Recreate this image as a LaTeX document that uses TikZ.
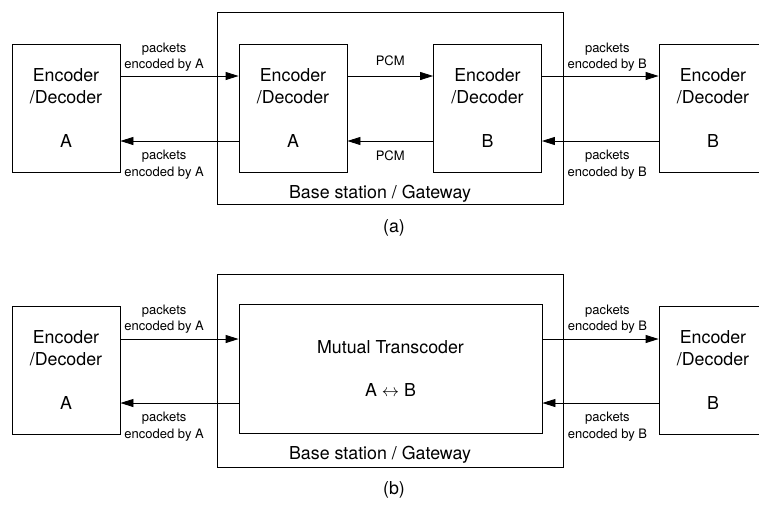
\documentclass[tikz,border=0pt]{standalone}
\usepackage{fontspec}
\setmainfont{TeX Gyre Heros}
\usetikzlibrary{arrows.meta}

\begin{document}
\begin{tikzpicture}[x=1pt, y=-1pt, line width=0.8pt,
   codec/.style={draw, minimum width=108pt, minimum height=128pt, inner sep=0pt, align=center, font=\fontsize{17.8}{21.7}\selectfont},
   frame/.style={draw, minimum width=346pt, minimum height=192pt},
   lbl/.style={align=center, inner sep=0pt, font=\fontsize{13}{16.3}\selectfont},
   big/.style={font=\fontsize{17.8}{21.7}\selectfont},
   link/.style={-{Triangle[length=13pt, width=8pt]}}]
   \useasboundingbox (0,0) rectangle (759,504);
   \clip (0,0) rectangle (759,504);

   % (a) two codecs in the gateway
   \node[frame] (BS1) at (390,108) {};
   \node[codec] (EA1) at (66,108) {Encoder\\/Decoder\\[21.7pt]A};
   \node[codec] (GA) at (293,108) {Encoder\\/Decoder\\[21.7pt]A};
   \node[codec] (GB) at (487.5,108) {Encoder\\/Decoder\\[21.7pt]B};
   \node[codec] (EB1) at (713,108) {Encoder\\/Decoder\\[21.7pt]B};
   \node[big, anchor=base] (BS1txt) at (380,198) {Base station / Gateway};
   \node[big] (capa) at (394,228) {(a)};

   \draw[link] ([yshift=32pt]EA1.east) -- node[lbl, above=4pt, pos=0.37] {packets\\encoded by A} ([yshift=32pt]GA.west);
   \draw[link] ([yshift=-33pt]GA.west) -- node[lbl, below=9pt, pos=0.63] {packets\\encoded by A} ([yshift=-33pt]EA1.east);
   \draw[link] ([yshift=32pt]GA.east) -- node[lbl, above=10pt] {PCM} ([yshift=32pt]GB.west);
   \draw[link] ([yshift=-33pt]GB.west) -- node[lbl, below=9pt] {PCM} ([yshift=-33pt]GA.east);
   \draw[link] ([yshift=32pt]GB.east) -- node[lbl, above=4pt, pos=0.56] {packets\\encoded by B} ([yshift=32pt]EB1.west);
   \draw[link] ([yshift=-33pt]EB1.west) -- node[lbl, below=9pt, pos=0.44] {packets\\encoded by B} ([yshift=-33pt]GB.east);

   % (b) mutual transcoder
   \node[frame, minimum height=193pt] (BS2) at (390,370.5) {};
   \node[codec] (EA2) at (66,370) {Encoder\\/Decoder\\[21.7pt]A};
   \node[codec, minimum width=303pt, minimum height=129pt] (MT) at (390.5,368.5) {Mutual Transcoder\\[21.7pt]A $\leftrightarrow$ B};
   \node[codec] (EB2) at (713,370) {Encoder\\/Decoder\\[21.7pt]B};
   \node[big, anchor=base] (BS2txt) at (380,459) {Base station / Gateway};
   \node[big] (capb) at (394,490) {(b)};

   \draw[link] ([yshift=31pt]EA2.east) -- node[lbl, above=5pt, pos=0.37] {packets\\encoded by A} ([yshift=31pt]EA2.east -| MT.west);
   \draw[link] ([yshift=-33pt]EA2.east -| MT.west) -- node[lbl, below=9pt, pos=0.63] {packets\\encoded by A} ([yshift=-33pt]EA2.east);
   \draw[link] ([yshift=31pt]EB2.west -| MT.east) -- node[lbl, above=5pt, pos=0.56] {packets\\encoded by B} ([yshift=31pt]EB2.west);
   \draw[link] ([yshift=-33pt]EB2.west) -- node[lbl, below=9pt, pos=0.44] {packets\\encoded by B} ([yshift=-33pt]EB2.west -| MT.east);
\end{tikzpicture}
\end{document}
